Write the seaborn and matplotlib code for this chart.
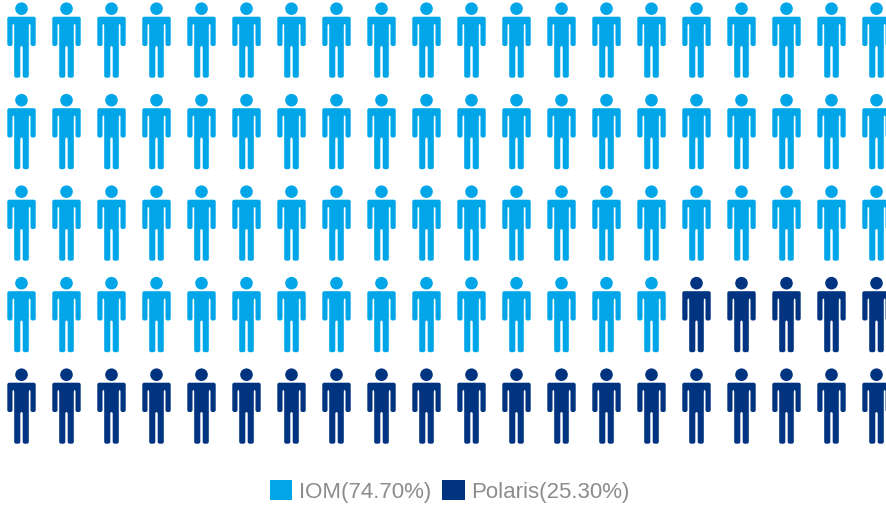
import numpy as np
import pandas as pd
import matplotlib
matplotlib.use("Agg")
import matplotlib.pyplot as plt
from matplotlib.path import Path
from matplotlib.patches import Patch
import seaborn as sns

groups = ["IOM", "Polaris"]
shares = ["74.70%", "25.30%"]
people = [75, 25]
n_cols = 20
n_rows = 5
colors = ["#00a6e8", "#003380"]

sns.set_theme(style="white")
plt.rcParams["font.family"] = ["Liberation Sans", "DejaVu Sans"]

# one row per person, filled row by row from the top left
group = np.repeat(groups, people)
df = pd.DataFrame({
    "col": np.tile(np.arange(n_cols), n_rows),
    "row": np.repeat(np.arange(n_rows), n_cols),
    "group": group,
})


def rounded(pts, r):
    # closed outline with each corner cut by a small curve
    verts, codes = [], []
    n = len(pts)
    for i in range(n):
        p = np.array(pts[i], dtype=float)
        a = np.array(pts[i - 1], dtype=float)
        b = np.array(pts[(i + 1) % n], dtype=float)
        ra = min(r, np.linalg.norm(a - p) / 2)
        rb = min(r, np.linalg.norm(b - p) / 2)
        start = p + (a - p) / np.linalg.norm(a - p) * ra
        end = p + (b - p) / np.linalg.norm(b - p) * rb
        verts += [start, p, end]
        codes += [Path.MOVETO if i == 0 else Path.LINETO, Path.CURVE3, Path.CURVE3]
    verts.append(verts[0])
    codes.append(Path.CLOSEPOLY)
    return Path(verts, codes)


def person_marker():
    # pixels around the figure's centre, y up
    head = Path.circle((0, 31.3), 6.3)
    half = [(14.2, 23.3), (14.2, -6), (9, -6), (9, 16), (7.3, 16), (7.3, -37.7), (1.2, -37.7), (1.2, -6)]
    pts = half + [(-x, y) for x, y in reversed(half)]
    return Path.make_compound_path(head, rounded(pts, 2))


fig, ax = plt.subplots(figsize=(8.87, 5.06), dpi=100)
ax.set_position([0, 0, 1, 1])

# the marker scales so its tallest half (37.7 px) equals half of sqrt(s) in points
size = (2 * 37.7 * 72 / 100) ** 2
sns.scatterplot(data=df, x="col", y="row", hue="group", palette=colors,
                hue_order=groups, marker=person_marker(), s=size, linewidth=0,
                legend=False, ax=ax)

ax.set_xlim(-21.5 / 45, (887 - 21.5) / 45)
ax.set_ylim((506 - 41) / 91.5, -41 / 91.5)
ax.axis("off")

handles = [Patch(facecolor=c, linewidth=0, label=f"{g}({s})") for c, g, s in zip(colors, groups, shares)]
ax.legend(handles=handles, ncol=2, frameon=False, fontsize=16, labelcolor="#8c8c8c",
          loc="center", bbox_to_anchor=(450 / 887, 1 - 492 / 506),
          handlelength=1, handleheight=1, handletextpad=0.3, columnspacing=0.5,
          borderpad=0, borderaxespad=0)

plt.savefig("out.png", dpi=100)
plt.close()
